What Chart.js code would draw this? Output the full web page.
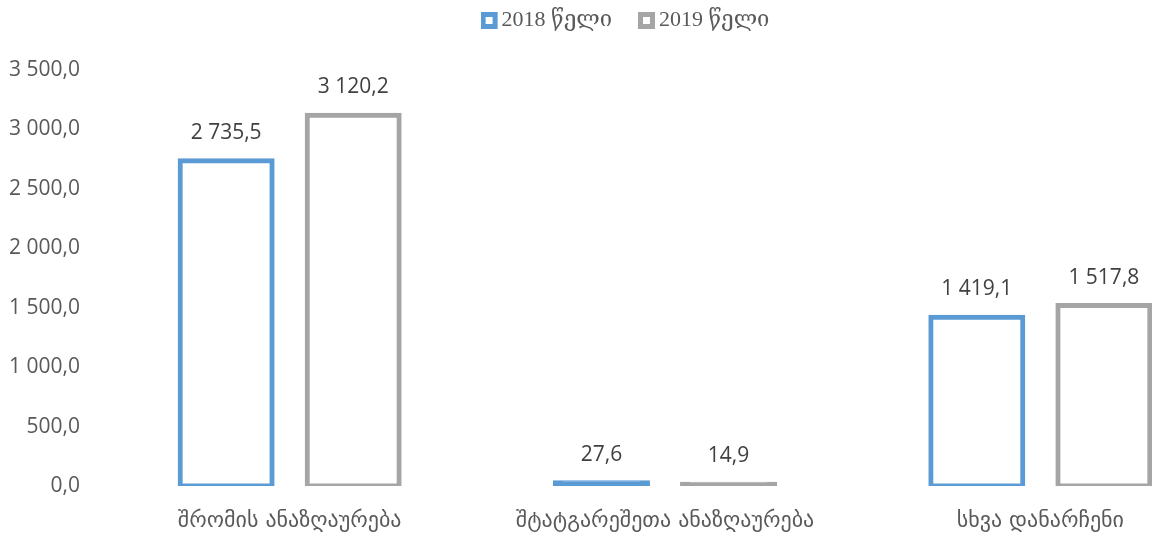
<!DOCTYPE html>
<html>
<head>
<meta charset="utf-8">
<script src="https://cdn.jsdelivr.net/npm/chart.js@4"></script>
<style>
  html, body { margin: 0; padding: 0; background: #fff; overflow: hidden; }
  #wrap { width: 1256px; height: 536px; }
</style>
</head>
<body>
<div id="wrap"><canvas id="barChart"></canvas></div>
<script>
const categories = ['შრომის ანაზღაურება', 'შტატგარეშეთა ანაზღაურება', 'სხვა დანარჩენი'];
const seriesNames = ['2018 წელი', '2019 წელი'];
const values2018 = [2735.5, 27.6, 1419.1];
const values2019 = [3120.2, 14.9, 1517.8];
const yTicks = [0, 500, 1000, 1500, 2000, 2500, 3000, 3500];

const colors = ['#5B9BD5', '#A5A5A5'];

function fmt(v) {
    const parts = v.toFixed(1).split('.');
    return parts[0].replace(/\B(?=(\d{3})+(?!\d))/g, ' ') + ',' + parts[1];
}

// legend marker: filled square with a white square inside
function marker(color) {
    const c = document.createElement('canvas');
    c.width = 18; c.height = 18;
    const g = c.getContext('2d');
    g.fillStyle = color;
    g.fillRect(0, 1, 17, 17);
    g.fillStyle = '#fff';
    g.fillRect(5, 6, 7, 7);
    return c;
}

// very short bars are just the outline, so fill them solid
function fillFor(color) {
    return (c) => (c.raw < 100 ? color : '#ffffff');
}

const valueLabels = {
    id: 'valueLabels',
    afterDatasetsDraw(chart) {
        const ctx = chart.ctx;
        ctx.save();
        ctx.font = '21px "Open Sans", "DejaVu Sans", sans-serif';
        ctx.fillStyle = '#404040';
        ctx.textAlign = 'center';
        ctx.textBaseline = 'middle';
        chart.data.datasets.forEach((ds, i) => {
            chart.getDatasetMeta(i).data.forEach((bar, j) => {
                ctx.fillText(fmt(ds.data[j]), bar.x, bar.y - 28);
            });
        });
        ctx.restore();
    }
};

// extra room under the legend, and nudge it right a little
const legendTweak = {
    id: 'legendTweak',
    beforeInit(chart) {
        const lg = chart.legend;
        const fit = lg.fit;
        lg.fit = function () {
            fit.call(this);
            this.height += 29;
        };
        const draw = lg.draw;
        lg.draw = function () {
            this.ctx.save();
            this.ctx.translate(15, 0);
            draw.call(this);
            this.ctx.restore();
        };
    }
};

const ctx = document.getElementById('barChart').getContext('2d');
new Chart(ctx, {
    type: 'bar',
    data: {
        labels: categories,
        datasets: [
            { label: seriesNames[0], data: values2018, backgroundColor: fillFor(colors[0]), borderColor: colors[0], borderWidth: 5, borderSkipped: false, inflateAmount: 2.5, pointStyle: marker(colors[0]) },
            { label: seriesNames[1], data: values2019, backgroundColor: fillFor(colors[1]), borderColor: colors[1], borderWidth: 5, borderSkipped: false, inflateAmount: 2.5, pointStyle: marker(colors[1]) }
        ]
    },
    options: {
        responsive: true,
        maintainAspectRatio: false,
        animation: false,
        layout: { padding: { top: -25, right: 28, left: 0, bottom: 0 } },
        datasets: { bar: { categoryPercentage: 0.677, barPercentage: 0.724 } },
        plugins: {
            legend: {
                position: 'top',
                labels: {
                    usePointStyle: true,
                    pointStyleWidth: 2,
                    padding: 34,
                    color: '#595959',
                    font: { family: '"Liberation Serif", "DejaVu Serif", serif', size: 22 }
                }
            },
            tooltip: { enabled: false }
        },
        scales: {
            x: {
                grid: { display: false },
                border: { display: false },
                ticks: { color: '#595959', padding: 14, font: { family: '"DejaVu Sans", sans-serif', size: 22 } },
                afterFit(scale) { scale.height = 50; }
            },
            y: {
                min: 0,
                max: 3500,
                afterBuildTicks(scale) { scale.ticks = yTicks.map(v => ({ value: v })); },
                grid: { display: false },
                border: { display: false },
                ticks: {
                    color: '#595959',
                    padding: 14,
                    font: { family: '"Open Sans", "DejaVu Sans", sans-serif', size: 21 },
                    callback: (v) => fmt(v)
                },
                afterFit(scale) { scale.width = 102; }
            }
        }
    },
    plugins: [valueLabels, legendTweak]
});
</script>
</body>
</html>
